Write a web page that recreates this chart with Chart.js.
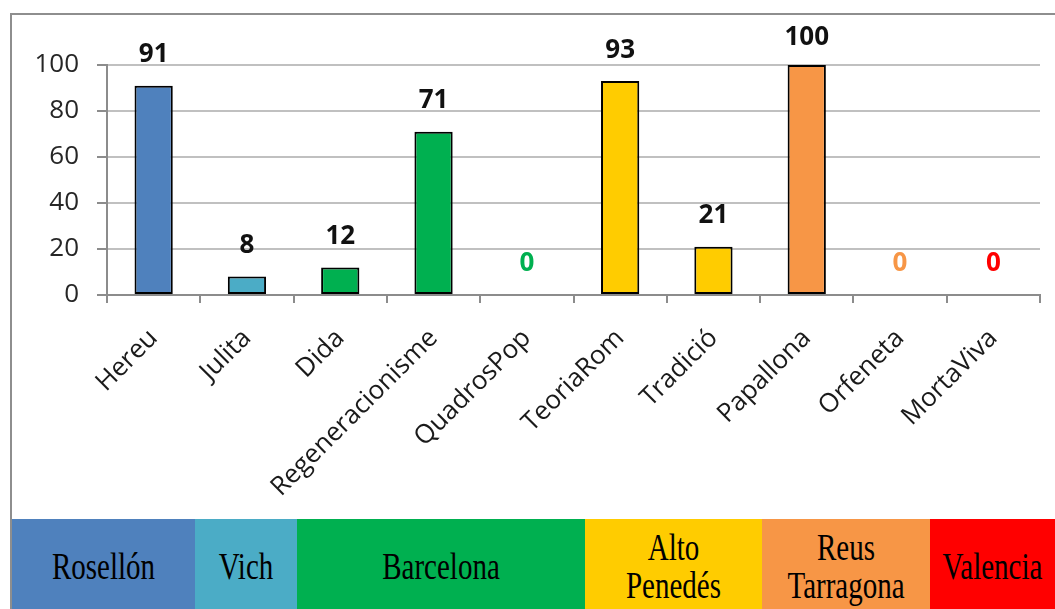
<!DOCTYPE html>
<html>
<head>
<meta charset="utf-8">
<script src="https://cdn.jsdelivr.net/npm/chart.js@4.4.1/dist/chart.umd.min.js"></script>
<style>
  html, body { margin:0; padding:0; background:#fff; }
  body { width:1055px; height:609px; position:relative; overflow:hidden; }
  #frame { position:absolute; left:10px; top:13px; width:1100px; height:640px; border:2px solid #8e8e8e; box-sizing:border-box; }
  #wrap { position:absolute; left:0; top:0; width:1055px; height:519px; }
  #band { position:absolute; left:12px; top:519px; height:90px; width:1043px; display:flex; }
  .reg { height:100%; display:flex; align-items:center; justify-content:center; text-align:center;
         font-family:"Liberation Serif", "DejaVu Serif", serif; font-size:29px; color:#000; padding-top:5px; box-sizing:border-box; }
  .reg span { display:inline-block; transform:scaleY(1.3); line-height:29px; white-space:pre; }
</style>
</head>
<body>
<div id="frame"></div>
<div id="wrap"><canvas id="c"></canvas></div>
<div id="band"></div>
<script>
const categories = ['Hereu','Julita','Dida','Regeneracionisme','QuadrosPop','TeoriaRom','Tradició','Papallona','Orfeneta','MortaViva'];
const values = [91, 8, 12, 71, 0, 93, 21, 100, 0, 0];
const regions = ['Rosellón', 'Vich', 'Barcelona', 'Alto\nPenedés', 'Reus\nTarragona', 'Valencia'];

const barColors = ['#4f81bd','#4bacc6','#00b050','#00b050','#00b050','#ffcc00','#ffcc00','#f79646','#f79646','#ff0000'];
const regionColors = ['#4f81bd','#4bacc6','#00b050','#ffcc00','#f79646','#ff0000'];
const regionWidths = [183, 102, 288, 177, 168, 125];

const band = document.getElementById('band');
regions.forEach((r, i) => {
  const d = document.createElement('div');
  d.className = 'reg';
  d.style.background = regionColors[i];
  d.style.width = regionWidths[i] + 'px';
  const s = document.createElement('span');
  s.textContent = r;
  d.appendChild(s);
  band.appendChild(d);
});

const valueLabels = {
  id: 'valueLabels',
  afterDatasetsDraw(chart) {
    const ctx = chart.ctx;
    const meta = chart.getDatasetMeta(0);
    ctx.save();
    ctx.font = 'bold 26px "Open Sans", sans-serif';
    ctx.textAlign = 'center';
    ctx.textBaseline = 'middle';
    meta.data.forEach((bar, i) => {
      const v = values[i];
      ctx.fillStyle = v === 0 ? barColors[i] : '#111';
      ctx.fillText(String(v), bar.x, Math.max(bar.y - 31, 38));
    });
    ctx.restore();
  }
};

new Chart(document.getElementById('c'), {
  type: 'bar',
  data: {
    labels: categories,
    datasets: [{
      data: values,
      backgroundColor: barColors,
      borderColor: '#000',
      borderWidth: (c) => (c.raw === 0 ? 0 : 2),
      borderSkipped: false,
      barPercentage: 0.41,
      categoryPercentage: 1.0
    }]
  },
  options: {
    responsive: true,
    maintainAspectRatio: false,
    animation: false,
    layout: { padding: { top: 65, right: 15, bottom: 0, left: 0 } },
    plugins: { legend: { display: false }, tooltip: { enabled: false } },
    scales: {
      x: {
        afterFit(scale) { scale.height = 224; },
        grid: { drawOnChartArea: false, drawTicks: true, tickLength: 8, color: '#8c8c8c', lineWidth: 2 },
        border: { color: '#8c8c8c', width: 2 },
        ticks: {
          minRotation: 45, maxRotation: 45, autoSkip: false, padding: 20,
          color: '#1a1a1a', font: { family: '"Open Sans", sans-serif', size: 26 }
        }
      },
      y: {
        min: 0, max: 100,
        afterFit(scale) { scale.width = 107; },
        grid: {
          color: (c) => (c.tick && c.tick.value === 0 ? '#8c8c8c' : '#c0c0c0'),
          tickColor: '#8c8c8c', lineWidth: 2, tickLength: 10
        },
        border: { color: '#8c8c8c', width: 2 },
        ticks: {
          stepSize: 20, padding: 18,
          color: '#262626', font: { family: '"Open Sans", sans-serif', size: 26 }
        }
      }
    }
  },
  plugins: [valueLabels]
});
</script>
</body>
</html>
